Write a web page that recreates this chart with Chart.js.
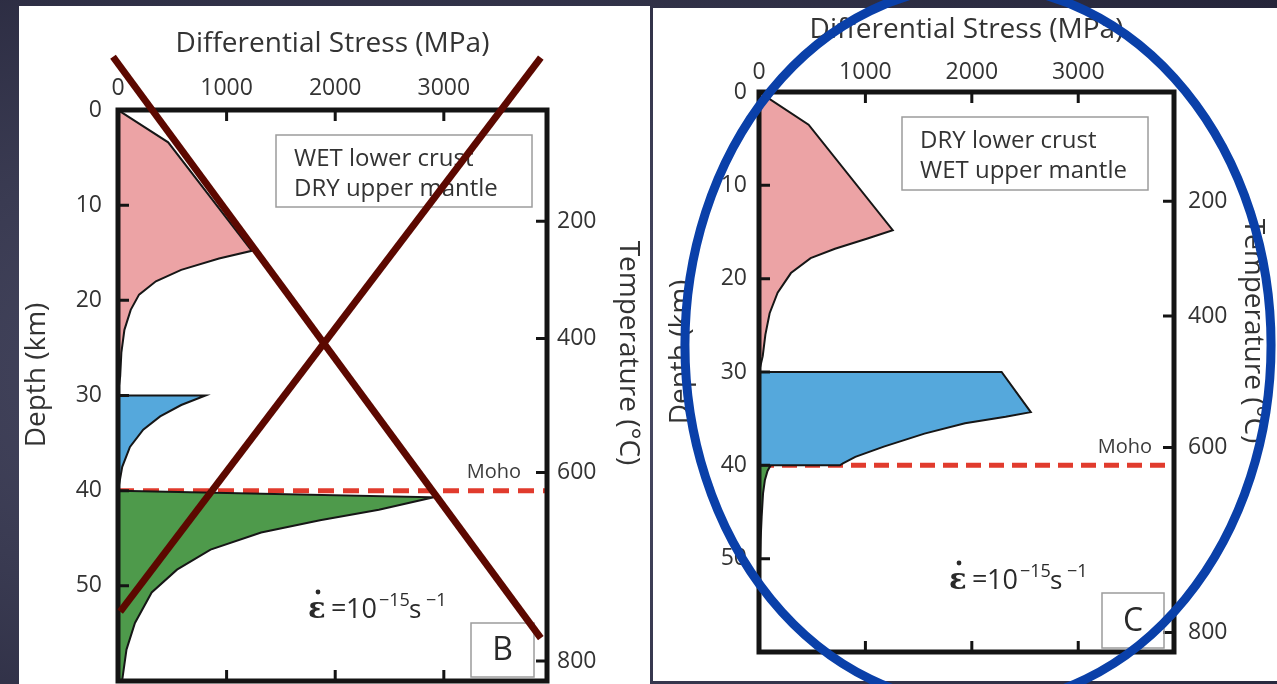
<!DOCTYPE html>
<html>
<head>
<meta charset="utf-8">
<script src="https://cdn.jsdelivr.net/npm/chart.js@4.4.1/dist/chart.umd.min.js"></script>
<style>
  html, body { margin: 0; padding: 0; }
  body {
    width: 1277px; height: 684px; overflow: hidden; position: relative;
    background: radial-gradient(ellipse at 35% 55%, #4d4e68 0%, #3a3b52 50%, #25253a 100%);
  }
  .panel { position: absolute; background: #fff; }
  #panelB { left: 19px; top: 6px; width: 631px; height: 678px; }
  #panelC { left: 653px; top: 8px; width: 624px; height: 673px; }
  canvas { position: absolute; }
  #chartB { left: 19px; top: 6px; }
  #chartC { left: 652px; top: 0px; }
</style>
</head>
<body>
<div class="panel" id="panelB"></div>
<div class="panel" id="panelC"></div>
<canvas id="chartB" width="631" height="678"></canvas>
<canvas id="chartC" width="625" height="684"></canvas>
<script>
// axis ticks
const stressTicks = [0, 1000, 2000, 3000];
const depthTicks = [0, 10, 20, 30, 40, 50, 60];
const tempTickLabels = [200, 400, 600, 800];
const tempTickDepths = [11.7, 24.0, 38.1, 57.9];
const mohoDepth = 40;

// panel B: WET lower crust, DRY upper mantle  (stress MPa / depth km)
const bCrustStress = [0, 462, 1232, 930, 582, 349, 194, 117, 59, 31, 20, 0];
const bCrustDepth  = [0, 3.4, 14.8, 15.6, 16.8, 18.0, 19.4, 21.0, 23.1, 25.5, 28.0, 29.8];
const bLowerStress = [0, 806, 582, 388, 232, 110, 39, 0];
const bLowerDepth  = [30, 30, 31.0, 32.2, 33.6, 35.4, 37.5, 40];
const bMantleStress = [0, 2905, 2402, 1860, 1318, 852, 543, 310, 156, 78, 39, 0];
const bMantleDepth  = [40, 40.7, 42.0, 43.1, 44.4, 46.2, 48.3, 50.7, 53.9, 56.7, 59.9, 60];

// panel C: DRY lower crust, WET upper mantle
const cCrustStress = [0, 466, 1257, 1020, 714, 485, 300, 175, 100, 60, 35, 0];
const cCrustDepth  = [0, 3.5, 14.8, 15.7, 16.8, 17.8, 19.4, 21.5, 23.7, 26.0, 28.3, 30];
const cLowerStress = [0, 2280, 2554, 2318, 1936, 1555, 1173, 905, 789, 760, 0];
const cLowerDepth  = [30, 30, 34.3, 34.8, 35.5, 36.6, 38.0, 39.1, 39.8, 40, 40];
const cMantleStress = [0, 110, 80, 55, 38, 25, 15, 8, 0];
const cMantleDepth  = [40, 40, 40.6, 41.6, 43.0, 45.5, 48.0, 51.0, 54];

// slide annotations (in the panel's data units)
const crossOutStress = [[-46, 3893], [3893, 20]];
const crossOutDepth  = [[-5.6, 55.5], [-5.5, 52.7]];
const circleCentre = [2058, 27.1];
const circleRadius = [2754, 38.5];

const FONT = '"Open Sans", "Noto Sans", sans-serif';
const TEXT = '#333333';

function pts(xs, ys) {
    return xs.map((x, i) => ({ x: x, y: ys[i] }));
}

function shape(xs, ys, colour) {
    return {
        data: pts(xs, ys),
        fill: 'origin',
        backgroundColor: colour,
        borderColor: '#161616',
        borderWidth: 2,
        pointRadius: 0,
        tension: 0
    };
}

function makeChart(id, cfg) {
    const decor = {
        id: 'decor',
        afterDraw(chart) {
            const { ctx, chartArea: a, scales } = chart;
            const xs = scales.x, ys = scales.y, ts = scales.y2;
            ctx.save();
            // frame
            ctx.strokeStyle = '#141414';
            ctx.lineWidth = 5;
            ctx.strokeRect(a.left, a.top, a.right - a.left, a.bottom - a.top);
            // inward tick marks
            ctx.lineWidth = 3;
            ctx.beginPath();
            stressTicks.slice(1).forEach(v => {
                const px = xs.getPixelForValue(v);
                ctx.moveTo(px, a.top); ctx.lineTo(px, a.top + 11);
                ctx.moveTo(px, a.bottom); ctx.lineTo(px, a.bottom - 11);
            });
            depthTicks.slice(1, -1).forEach(v => {
                const py = ys.getPixelForValue(v);
                ctx.moveTo(a.left, py); ctx.lineTo(a.left + 11, py);
            });
            tempTickDepths.forEach(v => {
                const py = ts.getPixelForValue(v);
                ctx.moveTo(a.right, py); ctx.lineTo(a.right - 11, py);
            });
            ctx.stroke();

            // rotated axis titles
            ctx.fillStyle = TEXT;
            ctx.font = '28px ' + FONT;
            ctx.textAlign = 'center';
            ctx.textBaseline = 'middle';
            ctx.save();
            ctx.translate(cfg.depthTitle[0], cfg.depthTitle[1]);
            ctx.rotate(-Math.PI / 2);
            ctx.fillText('Depth (km)', 0, 0);
            ctx.restore();
            ctx.save();
            ctx.translate(cfg.tempTitle[0], cfg.tempTitle[1]);
            ctx.rotate(Math.PI / 2);
            ctx.fillText('Temperature (\u00B0C)', 0, 0);
            ctx.restore();

            // Moho label
            ctx.font = '20px ' + FONT;
            ctx.textAlign = 'right';
            ctx.fillStyle = '#3c3c3c';
            ctx.fillText('Moho', cfg.mohoRight, ts.getPixelForValue(tempTickDepths[2]));

            // rheology key
            const k = cfg.key;
            ctx.strokeStyle = '#9c9c9c';
            ctx.lineWidth = 1.5;
            ctx.strokeRect(k[0], k[1], k[2], k[3]);
            ctx.fillStyle = TEXT;
            ctx.font = '24px ' + FONT;
            ctx.textAlign = 'left';
            ctx.fillText(cfg.keyLines[0], k[0] + 18, k[1] + 24);
            ctx.fillText(cfg.keyLines[1], k[0] + 18, k[1] + 54);

            // strain rate
            const e = cfg.eps;
            ctx.textBaseline = 'alphabetic';
            ctx.fillStyle = '#2a2a2a';
            ctx.font = 'bold 29px "DejaVu Serif", serif';
            ctx.fillText('\u03B5', e[0], e[1]);
            ctx.beginPath();
            ctx.arc(e[0] + 10, e[1] - 26, 2.4, 0, Math.PI * 2);
            ctx.fill();
            ctx.font = '27px ' + FONT;
            ctx.fillText('=', e[0] + 23, e[1] - 1);
            ctx.fillText('10', e[0] + 38, e[1]);
            ctx.font = '18px ' + FONT;
            ctx.fillText('\u221215', e[0] + 71, e[1] - 12);
            ctx.font = '26px ' + FONT;
            ctx.fillText('s', e[0] + 101, e[1]);
            ctx.font = '18px ' + FONT;
            ctx.fillText('\u22121', e[0] + 118, e[1] - 12);

            // panel letter
            const L = cfg.letterBox;
            ctx.strokeStyle = '#9c9c9c';
            ctx.lineWidth = 1.5;
            ctx.strokeRect(L[0], L[1], L[2], L[3]);
            ctx.font = '32px ' + FONT;
            ctx.textAlign = 'center';
            ctx.textBaseline = 'middle';
            ctx.fillStyle = '#2a2a2a';
            ctx.fillText(cfg.letter, L[0] + L[2] / 2, L[1] + L[3] / 2 + 1);

            // slide overlays
            if (cfg.crossOut) {
                ctx.strokeStyle = '#5c0800';
                ctx.lineWidth = 7;
                ctx.lineCap = 'butt';
                crossOutStress.forEach((sx, i) => {
                    const sy = crossOutDepth[i];
                    ctx.beginPath();
                    ctx.moveTo(xs.getPixelForValue(sx[0]), ys.getPixelForValue(sy[0]));
                    ctx.lineTo(xs.getPixelForValue(sx[1]), ys.getPixelForValue(sy[1]));
                    ctx.stroke();
                });
            }
            if (cfg.circle) {
                const cx = xs.getPixelForValue(circleCentre[0]);
                const cy = ys.getPixelForValue(circleCentre[1]);
                const rx = xs.getPixelForValue(circleCentre[0] + circleRadius[0]) - cx;
                const ry = ys.getPixelForValue(circleCentre[1] + circleRadius[1]) - cy;
                ctx.strokeStyle = '#0a40a9';
                ctx.lineWidth = 9;
                ctx.beginPath();
                ctx.ellipse(cx, cy, Math.abs(rx), Math.abs(ry), 0, 0, Math.PI * 2);
                ctx.stroke();
            }
            ctx.restore();
        }
    };

    // vertical scales: no extra label padding so the frame keeps its size
    const fixVertical = width => s => {
        s.width = width;
        s.paddingTop = 0;
        s.paddingBottom = 0;
    };

    const ctx = document.getElementById(id).getContext('2d');
    return new Chart(ctx, {
        type: 'line',
        data: {
            datasets: [
                shape(cfg.crust[0], cfg.crust[1], '#eca3a5'),
                shape(cfg.lower[0], cfg.lower[1], '#55a8dc'),
                shape(cfg.mantle[0], cfg.mantle[1], '#4e9a4b'),
                {
                    data: pts([0, cfg.xMax], [mohoDepth, mohoDepth]),
                    fill: false,
                    borderColor: '#e13b2d',
                    borderWidth: 5,
                    borderDash: cfg.dash,
                    pointRadius: 0
                }
            ]
        },
        options: {
            indexAxis: 'y',
            responsive: false,
            animation: false,
            layout: { padding: { left: 0, right: 0, top: 0, bottom: cfg.bottom } },
            plugins: { legend: { display: false }, tooltip: { enabled: false } },
            scales: {
                x: {
                    type: 'linear',
                    position: 'top',
                    min: 0,
                    max: cfg.xMax,
                    afterBuildTicks: s => { s.ticks = stressTicks.map(v => ({ value: v })); },
                    afterFit: s => { s.height = cfg.top; s.paddingLeft = 0; s.paddingRight = 0; },
                    grid: { display: false, drawTicks: false },
                    border: { display: false },
                    ticks: {
                        autoSkip: false, maxRotation: 0, padding: cfg.xTickPad,
                        color: TEXT, font: { family: FONT, size: 23 },
                        callback: v => String(v)
                    },
                    title: {
                        display: true, text: 'Differential Stress (MPa)', color: TEXT,
                        font: { family: FONT, size: 28 },
                        padding: { top: cfg.titlePad, bottom: 0 }
                    }
                },
                y: {
                    type: 'linear',
                    position: 'left',
                    reverse: true,
                    min: 0,
                    max: 60,
                    afterBuildTicks: s => { s.ticks = depthTicks.map(v => ({ value: v })); },
                    afterFit: fixVertical(cfg.left),
                    grid: { display: false, drawTicks: false },
                    border: { display: false },
                    ticks: {
                        autoSkip: false, padding: cfg.yTickPad,
                        color: TEXT, font: { family: FONT, size: 23 },
                        callback: v => (v === 60 ? '' : String(v))
                    }
                },
                y2: {
                    type: 'linear',
                    position: 'right',
                    reverse: true,
                    min: 0,
                    max: 60,
                    afterBuildTicks: s => { s.ticks = tempTickDepths.map(v => ({ value: v })); },
                    afterFit: fixVertical(cfg.right),
                    grid: { display: false, drawTicks: false },
                    border: { display: false },
                    ticks: {
                        autoSkip: false, padding: cfg.y2TickPad,
                        color: TEXT, font: { family: FONT, size: 23 },
                        callback: (v, i) => String(tempTickLabels[i])
                    }
                }
            }
        },
        plugins: [decor]
    });
}

document.addEventListener('DOMContentLoaded', () => {
    makeChart('chartB', {
        crust: [bCrustStress, bCrustDepth],
        lower: [bLowerStress, bLowerDepth],
        mantle: [bMantleStress, bMantleDepth],
        xMax: 3950,
        left: 99, top: 104, right: 103, bottom: 3,
        xTickPad: 8, titlePad: 21, yTickPad: 16, y2TickPad: 10,
        dash: [16, 9],
        depthTitle: [18, 369], tempTitle: [609, 347],
        mohoRight: 502,
        key: [257, 129, 256, 72],
        keyLines: ['WET lower crust', 'DRY upper mantle'],
        eps: [289, 612],
        letterBox: [452, 617, 63, 54],
        letter: 'B',
        crossOut: true
    });
    makeChart('chartC', {
        crust: [cCrustStress, cCrustDepth],
        lower: [cLowerStress, cLowerDepth],
        mantle: [cMantleStress, cMantleDepth],
        xMax: 3900,
        left: 107, top: 92, right: 103, bottom: 32,
        xTickPad: 6, titlePad: 13, yTickPad: 12, y2TickPad: 14,
        dash: [15, 8],
        depthTitle: [29, 352], tempTitle: [601, 331],
        mohoRight: 500,
        key: [250, 117, 246, 73],
        keyLines: ['DRY lower crust', 'WET upper mantle'],
        eps: [297, 589],
        letterBox: [450, 593, 62, 55],
        letter: 'C',
        circle: true
    });
});
</script>
</body>
</html>
